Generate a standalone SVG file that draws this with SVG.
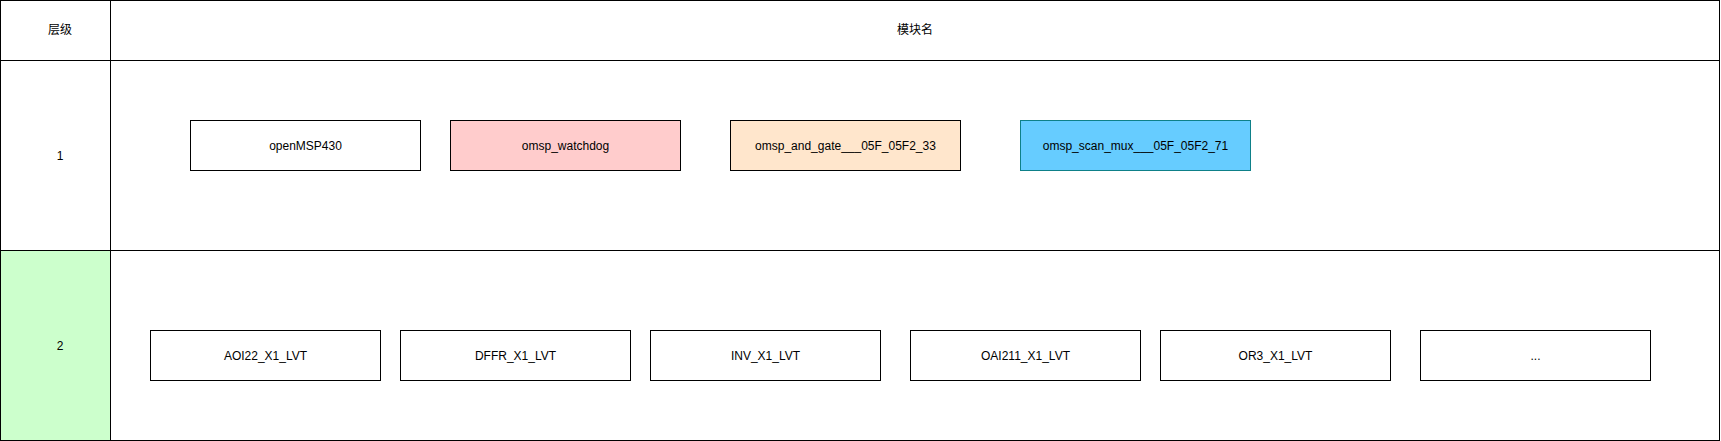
<svg xmlns="http://www.w3.org/2000/svg" width="1721" height="441" viewBox="0 0 1721 441">
<style>
.cell{fill:#ffffff;stroke:#000000;stroke-width:1}
.box{fill:#ffffff;stroke:#000000;stroke-width:1}
text{font-family:"Liberation Sans","Noto Sans CJK SC",Arial,sans-serif;font-size:12px;fill:#000000;text-anchor:middle;dominant-baseline:central}
</style>
<rect width="1721" height="441" fill="#ffffff"/>
<g id="table">
<rect class="cell" x="0.5" y="0.5" width="110" height="60"/>
<rect class="cell" x="110.5" y="0.5" width="1609" height="60"/>
<rect class="cell" x="0.5" y="60.5" width="110" height="190"/>
<rect class="cell" x="110.5" y="60.5" width="1609" height="190"/>
<rect class="cell" x="0.5" y="250.5" width="110" height="190" style="fill:#CCFFCC"/>
<rect class="cell" x="110.5" y="250.5" width="1609" height="190"/>
<text x="60" y="30">层级</text>
<text x="915" y="30">模块名</text>
<text x="60" y="155.5">1</text>
<text x="60" y="345.5">2</text>
</g>
<g id="openMSP430"><rect class="box" x="190.5" y="120.5" width="230" height="50"/><text x="305.5" y="145.5">openMSP430</text></g>
<g id="omsp_watchdog"><rect class="box" x="450.5" y="120.5" width="230" height="50" style="fill:#FFCCCC"/><text x="565.5" y="145.5">omsp_watchdog</text></g>
<g id="omsp_and_gate"><rect class="box" x="730.5" y="120.5" width="230" height="50" style="fill:#FFE6CC"/><text x="845.5" y="145.5">omsp_and_gate___05F_05F2_33</text></g>
<g id="omsp_scan_mux"><rect class="box" x="1020.5" y="120.5" width="230" height="50" style="fill:#66CCFF;stroke:#0E8088"/><text x="1135.5" y="145.5">omsp_scan_mux___05F_05F2_71</text></g>
<g id="AOI22_X1_LVT"><rect class="box" x="150.5" y="330.5" width="230" height="50"/><text x="265.5" y="355.5">AOI22_X1_LVT</text></g>
<g id="DFFR_X1_LVT"><rect class="box" x="400.5" y="330.5" width="230" height="50"/><text x="515.5" y="355.5">DFFR_X1_LVT</text></g>
<g id="INV_X1_LVT"><rect class="box" x="650.5" y="330.5" width="230" height="50"/><text x="765.5" y="355.5">INV_X1_LVT</text></g>
<g id="OAI211_X1_LVT"><rect class="box" x="910.5" y="330.5" width="230" height="50"/><text x="1025.5" y="355.5">OAI211_X1_LVT</text></g>
<g id="OR3_X1_LVT"><rect class="box" x="1160.5" y="330.5" width="230" height="50"/><text x="1275.5" y="355.5">OR3_X1_LVT</text></g>
<g id="more"><rect class="box" x="1420.5" y="330.5" width="230" height="50"/><text x="1535.5" y="355.5">...</text></g>
<g id="connectors"></g>
</svg>
